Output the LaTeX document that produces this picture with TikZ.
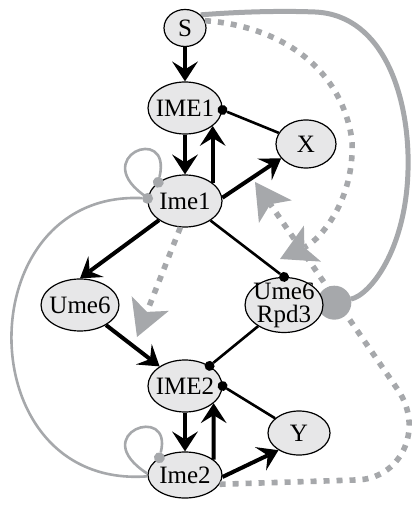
\documentclass[tikz,border=0pt]{standalone}
\usepackage{fontspec}
\setmainfont{Liberation Serif}
\usetikzlibrary{arrows.meta,shapes.geometric,backgrounds}
\definecolor{nodefill}{RGB}{231,231,232}
\definecolor{fbgray}{RGB}{166,168,171}
\tikzset{
  gene/.style={ellipse, draw, line width=0.6pt, fill=nodefill, inner xsep=-1.5pt, inner ysep=-1.5pt,
    minimum width=37pt, minimum height=26pt, font=\fontsize{12.5}{11.5}\selectfont, align=center},
  act/.style={line width=2pt, -{Stealth[length=10pt,width=13pt,inset=4pt,line width=0pt]}},
  inh/.style={line width=1.3pt, -{Circle[length=5pt,line width=0pt]}, shorten >=-2.5pt},
  fb/.style={fbgray, line width=1.3pt, -{Circle[length=5.5pt,line width=0pt]}, shorten >=-2.75pt},
  fbbig/.style={fbgray, line width=2.5pt, -{Circle[length=17pt,line width=0pt]}, shorten >=-3pt},
  fbdots/.style={fbgray, line width=2.8pt, dash pattern=on 3pt off 3.5pt,
    -{Stealth[length=18pt,width=20pt,inset=4.5pt,line width=0pt]}},
}
\begin{document}
\begin{tikzpicture}[x=0.5pt,y=-0.5pt]
\useasboundingbox (0,0) rectangle (411,506);
% nodes
\node[gene, minimum width=21pt, minimum height=18.5pt] (S) at (185,28) {S};
\node[gene] (IME1) at (185,108) {IME1};
\node[gene, minimum width=30pt, minimum height=24pt] (X) at (306,144) {X};
\node[gene] (Ime1) at (185,201) {Ime1};
\node[gene] (Ume6) at (80,305) {Ume6};
\node[gene, minimum width=38pt, minimum height=27pt] (UR) at (284,305) {Ume6\\Rpd3};
\node[gene] (IME2) at (185,386) {IME2};
\node[gene, minimum width=31pt, minimum height=22pt] (Y) at (299,433) {Y};
\node[gene, minimum height=23pt] (Ime2) at (185,475) {Ime2};
% black edges
\draw[act] (S) -- (IME1);
\draw[act] (IME1) -- (Ime1);
\draw[act] (Ime1.33) -- (IME1.-33);
\draw[inh] (X) -- (IME1.-3);
\draw[act] (Ime1.5) -- (X.210);
\draw[act] (Ime1) -- (Ume6.north);
\draw[inh] (Ime1) -- (UR.north);
\draw[act] (Ume6) -- (IME2);
\draw[inh] (UR) -- (IME2);
\draw[inh] (Y) -- (IME2.east);
\draw[act] (IME2) -- (Ime2);
\draw[act] (Ime2.28) -- (IME2.-31);
\draw[act] (Ime2.-3) -- (Y.220);
% feedback
\draw[fb] (Ime1.175) .. controls +(-62,-40) and +(14,-60) .. (Ime1.145);
\draw[fb] (Ime2.178) .. controls +(-62,-40) and +(14,-55) .. (Ime2.146);
\draw[fb] (Ime2.182) .. controls (-33,490) and (-33,190) .. (Ime1.176);
\coordinate (ta) at (280,259);
\coordinate (tb) at (255,182);
\coordinate (tc) at (137,337);
\draw[fbdots] (S.20) .. controls (270,25) and (340,60) .. (352,140)
  .. controls (355,200) and (320,240) .. (ta);
\draw[fbdots] (Ime2.-15) -- (355,480) .. controls (400,480) and (425,430) .. (398,390) -- (tb);
\draw[fbdots] (Ime1.260) -- (tc);
\begin{scope}[on background layer]
\draw[fbbig] (S.40) .. controls (250,11) and (290,11) .. (315,12)
  .. controls (385,15) and (410,100) .. (408,170)
  .. controls (406,250) and (370,295) .. (UR.east);
\end{scope}
\end{tikzpicture}
\end{document}
